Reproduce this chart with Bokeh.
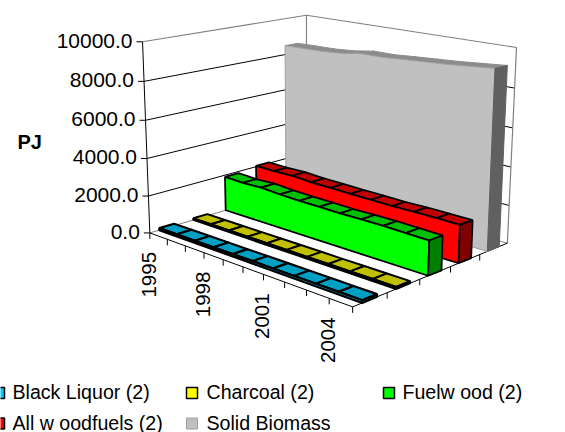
import numpy as np
from bokeh.plotting import figure
from bokeh.embed import file_html
from bokeh.resources import INLINE
from bokeh.core.properties import value

years = list(range(1995, 2006))
black_liquor = [110, 115, 115, 120, 120, 125, 125, 130, 130, 130, 130]
charcoal = [90, 90, 90, 90, 95, 95, 95, 95, 100, 100, 100]
fuelwood = [1900, 1860, 1900, 1830, 1800, 1790, 1770, 1790, 1790, 1770, 1750]
woodfuels = [2050, 2030, 2060, 1990, 1980, 1960, 1950, 1930, 1960, 1960, 1950]
solid_biomass = [8500, 8530, 8550, 8630, 8800, 8800, 8880, 8950, 9020, 9120, 9220]
series_names = ["Black Liquor (2)", "Charcoal (2)", "Fuelw ood (2)", "All w oodfuels (2)", "Solid Biomass"]
y_ticks = [0, 2000, 4000, 6000, 8000, 10000]
y_labels = ["0.0", "2000.0", "4000.0", "6000.0", "8000.0", "10000.0"]
year_label_idx = [0, 3, 6, 9]

# box corners on the page: (year position 0..10, depth 0..5, value 0..10000)
CORNERS = [((0, 0, 0), (149.5, 233)), ((10, 0, 0), (352, 306)), ((10, 5, 0), (507, 243)),
           ((0, 5, 0), (306, 185)), ((0, 0, 10000), (142, 41)), ((10, 5, 10000), (516, 47)),
           ((0, 5, 10000), (306, 15))]
A = []
for (u, d, w), (x, y) in CORNERS:
    w = w / 10000
    A.append([u, d, w, 1, 0, 0, 0, 0, -x*u, -x*d, -x*w, -x])
    A.append([0, 0, 0, 0, u, d, w, 1, -y*u, -y*d, -y*w, -y])
P = np.linalg.svd(np.array(A, float))[2][-1].reshape(3, 4)

def pr(u, d, v):
    h = P @ np.array([u, d, v / 10000, 1.0])
    return float(h[0] / h[2]), float(h[1] / h[2])

p = figure(width=565, height=432, x_range=(0, 565), y_range=(432, 0), output_backend="svg",
           toolbar_location=None, min_border=0, outline_line_color=None,
           background_fill_color="white", border_fill_color="white")
p.axis.visible = False
p.grid.visible = False
p.styles = {"position": "absolute", "left": "0px", "top": "0px"}

def seg(pts, color="black", w=1.0):
    xs, ys = zip(*[pr(*q) for q in pts])
    p.line(list(xs), list(ys), line_color=color, line_width=w)

GRAY = "#808080"
# walls
for t in y_ticks[:-1]:
    seg([(0, 0, t), (0, 5, t)], "black" if t else GRAY)
    seg([(0, 5, t), (10, 5, t)], "black" if t else GRAY)
seg([(0, 0, 10000), (0, 5, 10000), (10, 5, 10000), (10, 5, 0)], GRAY, 1.2)
seg([(0, 5, 0), (0, 5, 10000)], GRAY, 1.2)
# axes and ticks
seg([(0, 0, 0), (0, 0, 10000)])
seg([(0, 0, 0), (10, 0, 0), (10, 5, 0)])
for t in y_ticks:
    x, y = pr(0, 0, t)
    p.line([x - 6, x], [y, y], line_color="black")
for i in range(11):
    x, y = pr(i, 0, 0)
    p.line([x, x], [y, y + 6], line_color="black")
for i in range(1, 5):
    x, y = pr(10, i, 0)
    p.line([x, x], [y, y + 6], line_color="black")

D0, D1 = 0.27, 0.70
styles = [
    (black_liquor, "#00CCFF", "#00A0C4", "#006080", "black", 2.2),
    (charcoal, "#FFFF00", "#C0C000", "#808000", "black", 2.0),
    (fuelwood, "#00FF00", "#00C000", "#008000", "black", 1.8),
    (woodfuels, "#FF0000", "#C00000", "#800000", "black", 1.8),
    (solid_biomass, "#C0C0C0", "#8C8C8C", "#606060", "#A0A0A0", 1.0),
]
for i in range(4, -1, -1):
    vals, front, top, side, edge, lw = styles[i]
    d0, d1 = i + D0, i + D1
    txs, tys = [], []
    for k in range(10):
        q = [pr(k, d0, vals[k]), pr(k + 1, d0, vals[k + 1]), pr(k + 1, d1, vals[k + 1]), pr(k, d1, vals[k])]
        txs.append([a for a, _ in q]); tys.append([b for _, b in q])
    p.patches(txs, tys, fill_color=top, line_color=edge if i < 4 else top, line_width=lw)
    q = [pr(k, d0, vals[k]) for k in range(11)] + [pr(10, d0, 0), pr(0, d0, 0)]
    p.patch([a for a, _ in q], [b for _, b in q], fill_color=front, line_color=edge, line_width=lw)
    q = [pr(10, d0, 0), pr(10, d1, 0), pr(10, d1, vals[10]), pr(10, d0, vals[10])]
    p.patch([a for a, _ in q], [b for _, b in q], fill_color=side, line_color=edge if i < 4 else side, line_width=lw)

FONT = value("Liberation Sans")
for t, lab in zip(y_ticks, y_labels):
    x, y = pr(0, 0, t)
    p.text([x - 10], [y - 1], text=[lab], text_font=FONT, text_font_size="21px", text_align="right",
           text_baseline="middle", text_color="black")
p.text([17], [141], text=["PJ"], text_font=FONT, text_font_size="20px", text_font_style="bold",
       text_baseline="middle", text_color="black")
for i in year_label_idx:
    x, y = pr(i, 0, 0)
    p.text([x - 1], [y + 19], text=[str(years[i])], text_font=FONT, text_font_size="20.5px", angle=np.pi / 2,
           text_align="right", text_baseline="middle", text_color="black")

leg_x = [-7, 186, 383, -7, 186]
leg_y = [392.5, 392.5, 392.5, 423, 423]
text_x = [12, 206, 402, 12, 206]
for k, name in enumerate(series_names):
    p.scatter([leg_x[k] + 5.5], [leg_y[k]], marker="square", size=11, fill_color=styles[k][1],
              line_color="black" if k < 4 else "#A0A0A0", line_width=1.5 if k < 4 else 1)
    p.text([text_x[k]], [leg_y[k] - 1], text=[name], text_font=FONT, text_font_size="19.6px",
           text_baseline="middle", text_color="black")

open("out.html", "w").write(file_html(p, INLINE))
